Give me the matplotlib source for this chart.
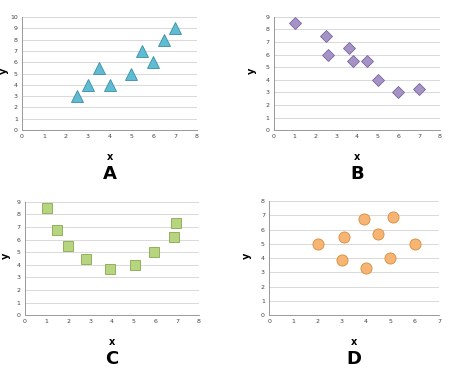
import matplotlib
matplotlib.use('Agg')
import matplotlib.pyplot as plt

# panel A: triangles
ax_a = [2.5, 3, 3.5, 4, 5, 5.5, 6, 6.5, 7]
ay_a = [3, 4, 5.5, 4, 5, 7, 6, 8, 9]
# panel B: diamonds
bx = [1, 2.5, 2.6, 3.6, 3.8, 4.5, 5, 6, 7]
by = [8.5, 7.5, 6, 6.5, 5.5, 5.5, 4, 3, 3.3]
# panel C: squares
cx = [1, 1.5, 2, 2.8, 3.9, 5.05, 5.95, 6.85, 6.95]
cy = [8.5, 6.8, 5.5, 4.5, 3.7, 4, 5, 6.2, 7.3]
# panel D: circles
dx = [2, 3, 3.1, 3.9, 4, 4.5, 5, 5.1, 6]
dy = [5, 3.9, 5.5, 6.75, 3.3, 5.7, 4, 6.9, 5]

panels = [
    # data, rect, xmax, ymax, marker, face, edge, ms, letter, ylabel x
    (ax_a, ay_a, [0.047, 0.654, 0.374, 0.301], 8, 10, '^', '#5fbcd3', '#3a8ea5', 9, 'A', -0.075),
    (bx, by, [0.585, 0.654, 0.355, 0.301], 8, 9, 'D', '#a593c6', '#7a66a0', 6.5, 'B', -0.1),
    (cx, cy, [0.053, 0.162, 0.372, 0.301], 8, 9, 's', '#b7d47e', '#86a84c', 7.5, 'C', -0.08),
    (dx, dy, [0.575, 0.162, 0.363, 0.303], 7, 8, 'o', '#f7b574', '#d98a3e', 8, 'D', -0.1),
]

fig = plt.figure(figsize=(4.68, 3.76), dpi=100)

for x, y, rect, xmax, ymax, mk, fc, ec, ms, letter, ylx in panels:
    ax = fig.add_axes(rect)
    ax.plot(x, y, linestyle='none', marker=mk, markersize=ms,
            markerfacecolor=fc, markeredgecolor=ec, markeredgewidth=0.6, zorder=3)
    ax.set_xlim(0, xmax)
    ax.set_ylim(0, ymax)
    ax.set_xticks(range(0, xmax + 1))
    ax.set_yticks(range(0, ymax + 1))
    ax.tick_params(labelsize=4.5, length=0, pad=3, colors='#444444')
    ax.grid(axis='y', color='#d9d9d9', linewidth=0.7)
    ax.set_axisbelow(True)
    for s in ('top', 'right'):
        ax.spines[s].set_visible(False)
    for s in ('left', 'bottom'):
        ax.spines[s].set_color('#999999')
        ax.spines[s].set_linewidth(0.7)
    ax.set_xlabel('x', fontsize=7, fontweight='bold')
    ax.set_ylabel('y', fontsize=7, fontweight='bold')
    ax.xaxis.set_label_coords(0.5, -0.195)
    ax.yaxis.set_label_coords(ylx, 0.52)
    ax.text(0.5, -0.385, letter, transform=ax.transAxes, ha='center', va='center',
            fontsize=13, fontweight='bold')

fig.savefig('out.png', dpi=100)
